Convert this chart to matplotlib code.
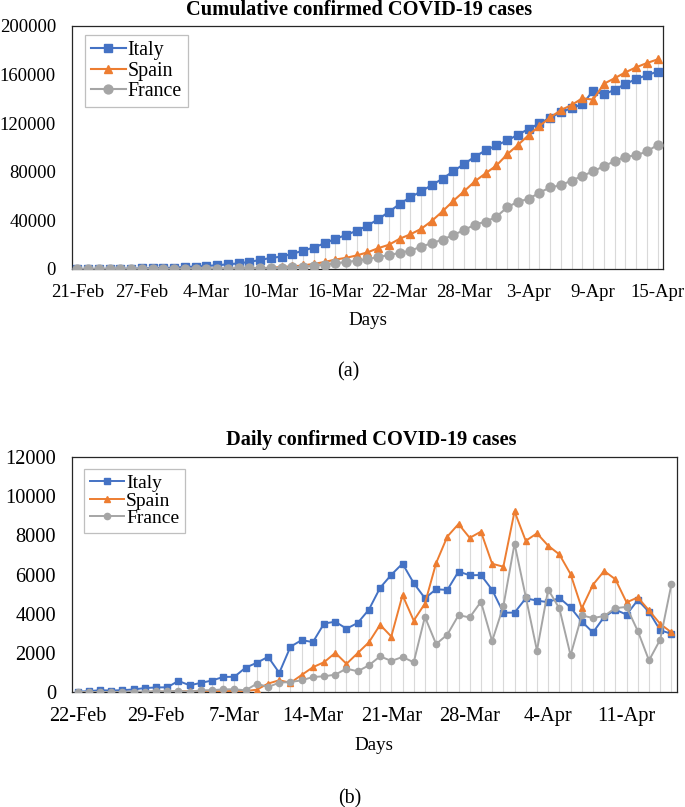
import numpy as np
import matplotlib
matplotlib.use("Agg")
import matplotlib.pyplot as plt

plt.rcParams['font.family'] = ['Liberation Serif', 'DejaVu Serif']

# ---- data ----
cum_ticks = ['21-Feb', '27-Feb', '4-Mar', '10-Mar', '16-Mar', '22-Mar',
             '28-Mar', '3-Apr', '9-Apr', '15-Apr']

italy_cum = [3, 20, 62, 155, 229, 322, 453, 655, 888, 1128, 1694, 2036, 2502,
             3089, 3858, 4636, 5883, 7375, 9172, 10149, 12462, 15113, 17660,
             21157, 24747, 27980, 31506, 35713, 41035, 47021, 53578, 59138,
             63927, 69176, 74386, 80589, 86498, 92472, 97689, 101739, 105792,
             110574, 115242, 119827, 124632, 128948, 132547, 135586, 146690,
             143626, 147577, 152271, 156363, 159516, 162488]
spain_cum = [2, 2, 2, 2, 2, 6, 13, 15, 32, 45, 84, 120, 165, 222, 259, 400,
             475, 595, 1025, 1625, 2095, 2965, 4231, 5753, 7753, 9191, 11178,
             13716, 17147, 19980, 24926, 28572, 33089, 39673, 47610, 56188,
             64059, 72248, 78797, 85195, 94417, 102136, 110238, 117710, 124736,
             130759, 135032, 140510, 139422, 152446, 157022, 161852, 166019,
             169496, 172541]
france_cum = [12, 12, 12, 12, 12, 14, 18, 38, 57, 100, 130, 191, 204, 285,
              377, 420, 500, 600, 800, 1050, 1350, 1900, 2700, 3600, 4700,
              5700, 6900, 8100, 9900, 11400, 13300, 15100, 18400, 21300, 24200,
              28100, 32000, 36600, 38900, 43100, 50700, 55500, 57600, 62900,
              67100, 69000, 72800, 76600, 80400, 84600, 88800, 92400, 93500,
              96800, 102100]

daily_ticks = ['22-Feb', '29-Feb', '7-Mar', '14-Mar', '21-Mar', '28-Mar',
               '4-Apr', '11-Apr']

italy_daily = [17, 42, 93, 74, 93, 131, 202, 233, 240, 566, 342, 466, 587,
               769, 778, 1247, 1492, 1797, 977, 2313, 2651, 2547, 3497, 3590,
               3233, 3526, 4207, 5322, 5986, 6557, 5560, 4789, 5249, 5210,
               6153, 5959, 5974, 5217, 4050, 4053, 4782, 4668, 4585, 4805,
               4316, 3599, 3039, 3836, 4204, 3951, 4694, 4092, 3153, 2972]
spain_daily = [0, 0, 0, 0, 4, 7, 2, 17, 13, 39, 36, 45, 57, 37, 60, 50,
               120, 430, 600, 470, 870, 1266, 1522, 2000, 1438, 1987, 2538,
               3431, 2833, 4946, 3646, 4517, 6584, 7937, 8578, 7871, 8189,
               6549, 6398, 9222, 7719, 8102, 7472, 7026, 6023, 4273, 5478,
               6180, 5756, 4576, 4830, 4167, 3477, 3045]
france_daily = [0, 0, 0, 2, 4, 20, 19, 43, 30, 61, 13, 84, 92, 136, 140, 85,
                426, 255, 477, 511, 596, 767, 801, 886, 1193, 1056, 1363,
                1823, 1584, 1789, 1516, 3838, 2446, 2931, 3922, 3809, 4611,
                2599, 4376, 7578, 4861, 2116, 5233, 4267, 1873, 3912, 3777,
                3881, 4286, 4342, 3114, 1613, 2673, 5497]

countries = ['Italy', 'Spain', 'France']
colors = ['#4472C4', '#ED7D31', '#A5A5A5']
markers = ['s', '^', 'o']

W, H = 685, 807
fig = plt.figure(figsize=(W / 100, H / 100), dpi=100)


def px_axes(left, top, right, bottom):
    return fig.add_axes([left / W, 1 - bottom / H, (right - left) / W,
                         (bottom - top) / H])


def draw(ax, series, ticks, step, ymax, ystep, msizes, lw, fs, legend_anchor,
         lfs, lspace):
    n = len(series[0])
    x = np.arange(n)
    # excel-style drop lines from the highest series down to the axis
    top = np.max(np.array(series), axis=0)
    ax.vlines(x, 0, top, color='#D9D9D9', lw=0.8, zorder=1)
    for s, name, c, m, ms in zip(series, countries, colors, markers, msizes):
        ax.plot(x, s, color=c, marker=m, ms=ms, lw=lw, mec=c, mfc=c,
                label=name, zorder=3)
    ax.set_xlim(-0.5, n - 0.5)
    ax.set_ylim(0, ymax)
    ax.set_yticks(np.arange(0, ymax + 1, ystep))
    ax.set_xticks(np.arange(0, n, step))
    ax.set_xticklabels(ticks)
    ax.tick_params(length=0, labelsize=fs)
    ax.tick_params(axis='y', pad=11.5)
    ax.tick_params(axis='x', pad=10.5)
    for sp in ax.spines.values():
        sp.set_color('#262626')
        sp.set_linewidth(0.9)
    leg = ax.legend(loc='upper left', bbox_to_anchor=legend_anchor,
                    borderaxespad=0, fancybox=False, framealpha=1,
                    edgecolor='#BFBFBF', fontsize=lfs, handlelength=1.75,
                    handletextpad=0.1, labelspacing=lspace, borderpad=0.3)
    leg.get_frame().set_linewidth(0.9)
    return ax


ax1 = px_axes(72, 26, 663, 269)
draw(ax1, [italy_cum, spain_cum, france_cum], cum_ticks, 6, 200000, 40000,
     [5.2, 6.0, 6.4], 1.5, 13.5, (13 / 591, 1 - 9 / 243), 14.3, 0.08)

ax2 = px_axes(72, 457, 677, 692)
draw(ax2, [italy_daily, spain_daily, france_daily], daily_ticks, 7, 12000, 2000,
     [4.3, 5.0, 4.5], 1.4, 14.7, (12.3 / 605, 1 - 11.6 / 235), 14.0, 0.0)

fig.text(359 / W, 1 - 15 / H, 'Cumulative confirmed COVID-19 cases',
         ha='center', va='baseline', fontsize=14.7, fontweight='bold')
fig.text(371 / W, 1 - 445 / H, 'Daily confirmed COVID-19 cases',
         ha='center', va='baseline', fontsize=14.7, fontweight='bold')
fig.text(368 / W, 1 - 325 / H, 'Days', ha='center', va='baseline',
         fontsize=13.7)
fig.text(374 / W, 1 - 750 / H, 'Days', ha='center', va='baseline',
         fontsize=13.7)
fig.text(348 / W, 1 - 376 / H, '(a)', ha='center', va='baseline', fontsize=14.5)
fig.text(350 / W, 1 - 803 / H, '(b)', ha='center', va='baseline', fontsize=14.3)

fig.savefig('out.png', dpi=100)
